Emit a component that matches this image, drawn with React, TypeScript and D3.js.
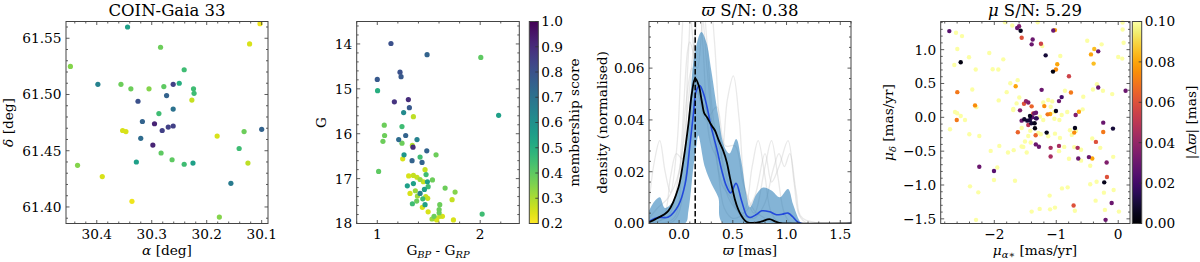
import * as d3 from "d3";
import { useEffect, useRef } from "react";

// panel 1: sky positions of the members
const skyRa = [30.344, 30.103, 30.284, 30.122, 30.448, 30.241, 30.398, 30.356, 30.338, 30.305, 30.278, 30.261, 30.25, 30.224, 30.223, 30.227, 30.273, 30.325, 30.261, 30.287, 30.317, 30.295, 30.261, 30.27, 30.281, 30.353, 30.347, 30.32, 30.298, 30.181, 30.132, 30.1, 30.141, 30.283, 30.263, 30.328, 30.241, 30.225, 30.125, 30.435, 30.39, 30.156, 30.336, 30.177];
const skyDec = [61.56, 61.563, 61.542, 61.545, 61.525, 61.522, 61.509, 61.509, 61.505, 61.505, 61.507, 61.509, 61.51, 61.505, 61.501, 61.495, 61.499, 61.494, 61.487, 61.483, 61.476, 61.474, 61.472, 61.471, 61.468, 61.468, 61.467, 61.461, 61.455, 61.463, 61.467, 61.469, 61.452, 61.448, 61.442, 61.44, 61.438, 61.439, 61.439, 61.437, 61.427, 61.421, 61.405, 61.391];
const skyMem = [0.55, 0.22, 0.38, 0.25, 0.35, 0.45, 0.65, 0.38, 0.38, 0.35, 0.4, 0.85, 0.5, 0.45, 0.45, 0.27, 0.75, 0.8, 0.7, 0.45, 0.75, 0.92, 0.85, 0.85, 0.85, 0.25, 0.25, 0.72, 0.92, 0.25, 0.38, 0.75, 0.45, 0.4, 0.4, 0.55, 0.45, 0.55, 0.28, 0.35, 0.25, 0.67, 0.22, 0.35];

// panel 2: colour-magnitude diagram
const cmdBpRp = [1.133, 1.484, 2.006, 1.221, 1.231, 1.0, 1.003, 1.302, 1.166, 1.312, 1.256, 1.351, 2.179, 1.068, 1.24, 1.071, 1.276, 1.055, 1.208, 1.386, 1.24, 1.341, 1.347, 1.481, 1.26, 1.571, 1.247, 1.416, 1.338, 1.435, 1.013, 1.464, 1.474, 1.305, 1.351, 1.386, 1.416, 1.448, 1.536, 1.487, 1.292, 1.351, 1.494, 1.659, 1.458, 1.37, 1.416, 1.318, 1.756, 1.39, 1.471, 1.49, 1.442, 1.727, 1.383, 1.341, 1.464, 1.607, 1.438, 1.601, 1.601, 1.494, 2.019, 1.552, 1.607, 1.633, 1.532, 1.578, 1.565, 1.74];
const cmdG = [13.99, 14.24, 14.3, 14.63, 14.73, 14.79, 15.04, 15.24, 15.29, 15.42, 15.53, 15.62, 15.59, 15.81, 15.84, 16.04, 16.04, 16.17, 16.13, 16.13, 16.21, 16.26, 16.3, 16.38, 16.47, 16.47, 16.56, 16.52, 16.6, 16.64, 16.84, 16.8, 16.91, 16.94, 16.93, 16.97, 17.02, 17.07, 17.03, 17.07, 17.16, 17.11, 17.18, 17.21, 17.24, 17.27, 17.33, 17.33, 17.3, 17.39, 17.4, 17.44, 17.45, 17.47, 17.5, 17.56, 17.58, 17.58, 17.64, 17.69, 17.76, 17.74, 17.79, 17.84, 17.84, 17.84, 17.9, 17.92, 17.89, 17.92];
const cmdMem = [0.8, 0.75, 0.4, 0.8, 0.78, 0.78, 0.5, 0.9, 0.88, 0.78, 0.62, 0.28, 0.55, 0.38, 0.45, 0.38, 0.75, 0.38, 0.72, 0.65, 0.38, 0.3, 0.9, 0.75, 0.58, 0.38, 0.25, 0.45, 0.75, 0.75, 0.4, 0.27, 0.45, 0.25, 0.27, 0.27, 0.32, 0.27, 0.38, 0.55, 0.55, 0.55, 0.45, 0.38, 0.55, 0.32, 0.65, 0.25, 0.35, 0.32, 0.27, 0.27, 0.45, 0.27, 0.38, 0.45, 0.55, 0.38, 0.25, 0.38, 0.38, 0.25, 0.45, 0.38, 0.27, 0.25, 0.32, 0.25, 0.25, 0.25];

// panel 3: parallax densities [parallax, density]
const plxCluster: [number, number][] = [[-0.28, 0.0005], [-0.22, 0.0017], [-0.1, 0.0049], [-0.006, 0.0139], [0.04, 0.0243], [0.087, 0.0385], [0.118, 0.05], [0.15, 0.056], [0.185, 0.053], [0.21, 0.0475], [0.235, 0.0425], [0.26, 0.041], [0.3, 0.038], [0.334, 0.0359], [0.37, 0.032], [0.411, 0.0281], [0.445, 0.0235], [0.473, 0.0178], [0.519, 0.0094], [0.55, 0.0055], [0.58, 0.003], [0.63, 0.0006], [0.7, 0.0002], [0.77, 0.0008], [0.84, 0.0017], [0.9, 0.0007], [0.95, 0.0001], [1.0, 0], [1.6, 0]];
const plxMedian: [number, number][] = [[-0.28, 0.0008], [-0.2, 0.0023], [-0.1, 0.0025], [-0.006, 0.007], [0.056, 0.0152], [0.102, 0.0307], [0.133, 0.0423], [0.16, 0.0513], [0.192, 0.0533], [0.225, 0.0505], [0.26, 0.045], [0.3, 0.037], [0.35, 0.029], [0.4, 0.02], [0.44, 0.0145], [0.48, 0.0118], [0.53, 0.0155], [0.58, 0.009], [0.63, 0.003], [0.66, 0.0023], [0.72, 0.0035], [0.77, 0.0049], [0.844, 0.0045], [0.906, 0.0034], [0.96, 0.0036], [1.014, 0.004], [1.06, 0.0025], [1.092, 0.001], [1.14, 0], [1.6, 0]];
const plxUpper: [number, number][] = [[-0.28, 0.0049], [-0.23, 0.0085], [-0.179, 0.0101], [-0.133, 0.006], [-0.07, 0.0078], [-0.01, 0.014], [0.053, 0.0268], [0.099, 0.046], [0.145, 0.0655], [0.207, 0.0739], [0.254, 0.07], [0.3, 0.059], [0.362, 0.0423], [0.424, 0.0294], [0.47, 0.027], [0.532, 0.0326], [0.578, 0.0243], [0.625, 0.0114], [0.659, 0.0062], [0.721, 0.0114], [0.782, 0.0139], [0.86, 0.0127], [0.937, 0.0101], [1.014, 0.0133], [1.06, 0.0075], [1.122, 0.001], [1.15, 0], [1.6, 0]];
const plxLower: [number, number][] = [[-0.28, 0], [0.056, 0], [0.087, 0.0049], [0.133, 0.0217], [0.164, 0.031], [0.179, 0.034], [0.241, 0.0217], [0.303, 0.0152], [0.365, 0.01], [0.411, 0], [1.6, 0]];
const plxDraws: [number, number][][] = [
  [[-0.28, 0.008], [-0.23, 0.024], [-0.18, 0.032], [-0.13, 0.02], [-0.08, 0.012], [-0.02, 0.03], [0.03, 0.075], [0.07, 0.1], [0.12, 0.075], [0.18, 0.05], [0.24, 0.045], [0.3, 0.04], [0.36, 0.022], [0.42, 0.006], [0.5, 0.002], [0.6, 0.004], [0.68, 0.022], [0.736, 0.032], [0.8, 0.018], [0.86, 0.004], [0.95, 0], [1.6, 0]],
  [[-0.28, 0], [-0.15, 0.002], [-0.08, 0.018], [-0.025, 0.027], [0.03, 0.025], [0.08, 0.06], [0.15, 0.11], [0.22, 0.07], [0.3, 0.03], [0.38, 0.025], [0.45, 0.048], [0.505, 0.057], [0.56, 0.04], [0.62, 0.012], [0.7, 0.004], [0.8, 0.022], [0.86, 0.032], [0.92, 0.018], [0.98, 0.004], [1.05, 0], [1.6, 0]],
  [[-0.28, 0], [-0.05, 0.002], [0.02, 0.03], [0.1, 0.07], [0.17, 0.06], [0.22, 0.08], [0.27, 0.095], [0.33, 0.07], [0.38, 0.035], [0.44, 0.012], [0.52, 0.006], [0.6, 0.004], [0.7, 0.01], [0.8, 0.027], [0.86, 0.016], [0.93, 0.022], [1.014, 0.032], [1.07, 0.016], [1.12, 0.003], [1.2, 0], [1.6, 0]],
  [[-0.28, 0], [-0.1, 0.003], [0.0, 0.02], [0.08, 0.045], [0.14, 0.07], [0.2, 0.085], [0.26, 0.06], [0.33, 0.03], [0.4, 0.015], [0.48, 0.01], [0.56, 0.004], [0.7, 0.002], [0.8, 0.008], [0.87, 0.02], [0.93, 0.027], [0.98, 0.022], [1.03, 0.027], [1.09, 0.012], [1.15, 0.002], [1.6, 0]],
  [[-0.28, 0.002], [-0.2, 0.006], [-0.1, 0.01], [0.0, 0.02], [0.06, 0.045], [0.12, 0.06], [0.18, 0.05], [0.25, 0.04], [0.35, 0.045], [0.43, 0.03], [0.52, 0.03], [0.6, 0.015], [0.7, 0.005], [0.8, 0.002], [0.9, 0], [1.6, 0]],
  [[-0.28, 0], [-0.05, 0.001], [0.05, 0.015], [0.12, 0.05], [0.16, 0.08], [0.2, 0.1], [0.25, 0.075], [0.32, 0.04], [0.4, 0.025], [0.48, 0.012], [0.56, 0.004], [0.65, 0], [1.6, 0]],
];
const plxPeak = 0.15;

// panel 4: proper motions, coloured by |parallax offset|
const pmRa = [-2.726, -2.618, -2.521, -1.827, -1.71, -1.63, -1.6, -1.575, -1.558, -1.381, -1.397, -2.597, -2.542, -2.645, -2.408, -2.081, -1.855, -2.3, -2.026, -1.935, -1.742, -1.623, -1.655, -1.8, -2.355, -2.597, -1.929, -2.311, -2.29, -1.597, -1.489, -1.452, -1.521, -1.397, -1.585, -1.693, -2.634, -2.6, -2.542, -2.606, -2.473,
  -1.559, -1.516, -1.468, -1.425, -1.387, -1.355, -1.328, -1.349, -1.344, -1.403, -1.452, -1.424, -1.371, -1.316, -1.327, -1.62, -1.333, -1.33, -1.28, -1.155, -1.091, -1.091, -0.956, -0.71, -0.698, -0.655, -0.645, -0.473, -0.419, -0.36, -0.242, -0.242, -0.085, -0.187, -0.182, -0.226, -0.106, -0.72, -0.204, -2.242, -2.005,
  -1.3, -1.048, -1.021, -1.247, -1.226, -1.171, -0.935, -0.984, -1.005, -1.053, -0.795, -0.5, -0.387, -0.323, -0.44, -0.268, 0.071, 0.071, 0.087, -0.397, 0.0, 0.065, -0.344, -0.323, -0.408, -0.247, -0.097, 0.119, -1.236, -0.86, -0.763, -0.913, -0.956, -0.564, -1.064, -1.193, -1.005, -1.03, -1.139, -1.097, -0.823, -0.634, -0.574, -0.687, -0.913, -1.03, -0.95,
  -2.715, -2.403, -2.242, -1.558, -1.42, -1.452, -1.413, -1.532, -1.919, -2.058, -1.779, -1.687, -1.477, -1.952, -2.005, -1.666, -2.392, -2.258, -1.397, -2.295,
  -1.29, -1.25, -1.13, -1.021, -0.94, -0.956, -0.871, -0.795, -0.779, -0.68, -0.75, -0.71, -0.6, -0.6, -0.419, -0.29, -0.452, -0.081, -0.349, -0.452, -0.074, -0.231, -0.816, -0.908, -1.107, -0.365, -0.7, -0.215, 0.011, -1.021, -1.1, -1.268,
  -1.694, -1.64, -1.21, -1.13, -1.09, -1.263, -1.21, -1.505, -1.559];
const pmDec = [1.274, 1.25, 1.2, 1.406, 1.357, 1.32, 1.345, 1.279, 1.176, 1.151, 1.078, 1.009, 0.813, 0.774, 0.887, 0.95, 0.857, 0.706, 0.71, 0.706, 0.504, 0.549, 0.46, 0.372, 0.412, 0.372, 0.25, 0.176, 0.15, 0.294, 0.24, 0.22, 0.2, 0.162, 0.103, 0.122, 0.078, 0.06, 0.019, -0.04, -0.04,
  -0.049, -0.029, -0.049, -0.039, 0.0, 0.059, -0.015, -0.088, -0.162, -0.088, -0.113, 0.019, 0.059, -0.015, 0.068, -0.22, -0.265, -0.4, -0.435, -0.226, -0.451, -0.579, -0.422, -0.226, -0.157, -0.451, -0.608, -0.588, -0.608, -0.363, -0.079, -0.216, -0.167, -0.667, -0.882, -0.961, -1.265, -1.304, -1.515, -0.731, -0.794,
  1.406, 1.284, 1.289, 1.088, 1.053, 0.916, 0.906, 0.784, 0.706, 0.676, 0.607, 1.132, 1.009, 0.975, 0.93, 1.078, 1.401, 1.298, 1.103, 0.794, 0.891, 0.868, 0.49, 0.441, 0.412, 0.392, 0.343, 0.392, 0.406, 0.392, 0.367, 0.299, 0.24, 0.303, 0.235, 0.166, 0.093, 0.08, 0.044, 0.049, 0.078, 0.083, 0.118, 0.034, 0.034, -0.02, -0.04,
  -0.176, -0.25, -0.275, -0.157, -0.2, -0.275, -0.373, -0.437, -0.422, -0.496, -0.52, -0.485, -0.52, -0.741, -0.927, -0.937, -1.02, -1.109, -1.393, -1.515,
  -0.23, -0.25, -0.28, -0.241, -0.304, -0.5, -0.437, -0.613, -0.191, -0.2, -0.26, -0.44, -0.48, -0.64, -0.314, -0.451, -0.716, -0.584, -0.951, -0.99, -1.074, -1.113, -1.035, -1.05, -1.157, -1.231, -1.38, -1.368, -1.393, -1.334, -1.36, -1.353,
  0.108, 0.206, 0.22, 0.255, 0.157, 0.01, -0.04, -0.358, -0.431];
const pmDPlx = [0.025, 0.1, 0.1, 0.1, 0.1, 0.03, 0.035, 0.005, 0.06, 0.03, 0.03, 0.1, 0.003, 0.1, 0.1, 0.1, 0.1, 0.1, 0.1, 0.1, 0.1, 0.1, 0.08, 0.1, 0.1, 0.07, 0.1, 0.075, 0.1, 0.1, 0.04, 0.035, 0.06, 0.065, 0.035, 0.1, 0.1, 0.1, 0.1, 0.07, 0.1,
  0.03, 0.008, 0.01, 0.012, 0.025, 0.03, 0.015, 0.005, 0.003, 0.01, 0.05, 0.006, 0.06, 0.02, 0.03, 0.065, 0.065, 0.03, 0.03, 0.005, 0.045, 0.045, 0.045, 0.075, 0.005, 0.045, 0.03, 0.03, 0.08, 0.06, 0.03, 0.07, 0.01, 0.035, 0.06, 0.005, 0.03, 0.06, 0.03, 0.03, 0.025,
  0.1, 0.03, 0.08, 0.055, 0.1, 0.01, 0.1, 0.08, 0.075, 0.003, 0.055, 0.1, 0.085, 0.03, 0.08, 0.1, 0.1, 0.1, 0.1, 0.085, 0.1, 0.1, 0.1, 0.03, 0.1, 0.1, 0.1, 0.03, 0.03, 0.1, 0.07, 0.02, 0.03, 0.1, 0.1, 0.075, 0.005, 0.1, 0.07, 0.08, 0.1, 0.08, 0.1, 0.035, 0.1, 0.1, 0.1,
  0.1, 0.1, 0.1, 0.1, 0.1, 0.1, 0.1, 0.1, 0.1, 0.1, 0.1, 0.1, 0.1, 0.1, 0.1, 0.1, 0.1, 0.1, 0.1, 0.1,
  0.1, 0.1, 0.1, 0.1, 0.1, 0.1, 0.1, 0.1, 0.1, 0.1, 0.1, 0.1, 0.1, 0.1, 0.1, 0.1, 0.1, 0.1, 0.1, 0.1, 0.1, 0.1, 0.1, 0.1, 0.1, 0.1, 0.1, 0.1, 0.1, 0.1, 0.1, 0.1,
  0.1, 0.1, 0.1, 0.1, 0.1, 0.1, 0.1, 0.1, 0.1];

// tick labels
const skyRaTicks = [30.4, 30.3, 30.2, 30.1];
const skyDecTicks = [61.4, 61.45, 61.5, 61.55];
const cmdColorTicks = [1, 2];
const cmdMagTicks = [14, 15, 16, 17, 18];
const memTicks = [0.2, 0.3, 0.4, 0.5, 0.6, 0.7, 0.8, 0.9, 1.0];
const plxTicks = [0, 0.5, 1.0, 1.5];
const densTicks = [0, 0.02, 0.04, 0.06];
const pmRaTicks = [-2, -1, 0];
const pmDecTicks = [-1.5, -1.0, -0.5, 0, 0.5, 1.0];
const dPlxTicks = [0, 0.02, 0.04, 0.06, 0.08, 0.1];

const FONT = "DejaVu Serif, serif";
const FS = 13.7;
const TOP = 21.5;
const BOT = 223.5;

type Sel = d3.Selection<SVGGElement, unknown, null, undefined>;

function frame(g: Sel, x: any, y: any, xt: number[], yt: number[], xStep: number, yStep: number, xf: string, yf: string) {
  const [l, r] = x.range();
  const line = (x1: number, y1: number, x2: number, y2: number) =>
    g.append("line").attr("x1", x1).attr("y1", y1).attr("x2", x2).attr("y2", y2).attr("stroke", "#333").attr("stroke-width", 0.8);
  const minor = (sc: any, step: number, major: number[]) => {
    const [a, b] = d3.extent(sc.domain() as number[]) as [number, number];
    const out: number[] = [];
    for (let v = Math.ceil(a / step - 1e-6) * step; v <= b + 1e-9; v += step) {
      if (!major.some((m) => Math.abs(m - v) < step / 10)) out.push(v);
    }
    return out;
  };
  for (const v of xt) {
    line(x(v), BOT, x(v), BOT - 3.5);
    line(x(v), TOP, x(v), TOP + 3.5);
    g.append("text").attr("x", x(v)).attr("y", BOT + 15).attr("text-anchor", "middle").attr("font-size", FS).text(d3.format(xf)(v));
  }
  for (const v of minor(x, xStep, xt)) {
    line(x(v), BOT, x(v), BOT - 2);
    line(x(v), TOP, x(v), TOP + 2);
  }
  for (const v of yt) {
    line(l, y(v), l + 3.5, y(v));
    line(r, y(v), r - 3.5, y(v));
    g.append("text").attr("x", l - 4.5).attr("y", y(v)).attr("dy", "0.36em").attr("text-anchor", "end").attr("font-size", FS).text(d3.format(yf)(v));
  }
  for (const v of minor(y, yStep, yt)) {
    line(l, y(v), l + 2, y(v));
    line(r, y(v), r - 2, y(v));
  }
  g.append("rect").attr("x", l).attr("y", TOP).attr("width", r - l).attr("height", BOT - TOP).attr("fill", "none").attr("stroke", "#444").attr("stroke-width", 1);
}

function colorbar(g: Sel, defs: any, id: string, x0: number, x1: number, sc: any, interp: (t: number) => string, ticks: number[], fmt: string) {
  const grad = defs.append("linearGradient").attr("id", id).attr("x1", 0).attr("y1", 1).attr("x2", 0).attr("y2", 0);
  d3.range(0, 1.0001, 0.05).forEach((t) => grad.append("stop").attr("offset", t).attr("stop-color", interp(t)));
  g.append("rect").attr("x", x0).attr("y", TOP).attr("width", x1 - x0).attr("height", BOT - TOP).attr("fill", `url(#${id})`).attr("stroke", "#444").attr("stroke-width", 1);
  for (const v of ticks) {
    g.append("line").attr("x1", x1).attr("x2", x1 - 3).attr("y1", sc(v)).attr("y2", sc(v)).attr("stroke", "#333").attr("stroke-width", 0.8);
    g.append("text").attr("x", x1 + 3).attr("y", sc(v)).attr("dy", "0.36em").attr("font-size", FS).text(d3.format(fmt)(v));
  }
}

function ylabel(g: Sel, x: number, parts: [string, string?][]) {
  const t = g.append("text").attr("transform", `translate(${x},${(TOP + BOT) / 2}) rotate(-90)`).attr("text-anchor", "middle").attr("font-size", FS);
  addParts(t, parts);
}
function xlabel(g: Sel, x: number, parts: [string, string?][]) {
  const t = g.append("text").attr("x", x).attr("y", 254.5).attr("text-anchor", "middle").attr("font-size", FS);
  addParts(t, parts);
}
function addParts(t: any, parts: [string, string?][]) {
  for (const [s, kind] of parts) {
    const sp = t.append("tspan").text(s);
    if (kind === "i") sp.attr("font-style", "italic");
    if (kind === "sub") sp.attr("font-style", "italic").attr("font-size", FS * 0.72).attr("dy", 3);
    if (kind === "up") sp.attr("dy", -3);
  }
}

export default function App() {
  const ref = useRef<SVGSVGElement | null>(null);
  useEffect(() => {
    if (!ref.current) return;
    const svg = d3.select(ref.current);
    svg.selectAll("*").remove();
    const defs = svg.append("defs");
    const root = svg.append("g").attr("font-family", FONT).attr("fill", "#000") as unknown as Sel;
    const viridisR = (t: number) => d3.interpolateViridis(1 - t);

    // ---- panel 1: sky
    {
      const x = d3.scaleLinear().domain([30.456, 30.0885]).range([66, 268]);
      const y = d3.scaleLinear().domain([61.3853, 61.5649]).range([BOT, TOP]);
      const g = root.append("g") as unknown as Sel;
      const idx = d3.range(skyRa.length).sort((a, b) => skyMem[a] - skyMem[b]);
      g.selectAll("circle").data(idx).join("circle")
        .attr("cx", (i) => x(skyRa[i])).attr("cy", (i) => y(skyDec[i])).attr("r", 2.6)
        .attr("fill", (i) => viridisR((skyMem[i] - 0.2) / 0.8));
      frame(g, x, y, skyRaTicks, skyDecTicks, 0.02, 0.01, ".1f", ".2f");
      g.append("text").attr("x", 167).attr("y", 16).attr("text-anchor", "middle").attr("font-size", 16.5).text("COIN-Gaia 33");
      xlabel(g, 167, [["α", "i"], [" [deg]"]]);
      ylabel(g, 13, [["δ", "i"], [" [deg]"]]);
    }

    // ---- panel 2: CMD
    {
      const x = d3.scaleLinear().domain([0.8, 2.38]).range([356.7, 519.3]);
      const y = d3.scaleLinear().domain([13.5, 18]).range([TOP, BOT]);
      const c = d3.scaleLinear().domain([0.2, 1.0]).range([BOT, TOP]);
      const g = root.append("g") as unknown as Sel;
      const idx = d3.range(cmdBpRp.length).sort((a, b) => cmdMem[a] - cmdMem[b]);
      g.selectAll("circle").data(idx).join("circle")
        .attr("cx", (i) => x(cmdBpRp[i])).attr("cy", (i) => y(cmdG[i])).attr("r", 2.6)
        .attr("fill", (i) => viridisR((cmdMem[i] - 0.2) / 0.8));
      frame(g, x, y, cmdColorTicks, cmdMagTicks, 0.2, 0.2, "d", "d");
      colorbar(g, defs, "memGrad", 529.3, 538.3, c, viridisR, memTicks, ".1f");
      xlabel(g, 438, [["G"], ["BP", "sub"], [" - G", "up"], ["RP", "sub"]]);
      ylabel(g, 326, [["G"]]);
      ylabel(g, 579, [["membership score"]]);
    }

    // ---- panel 3: parallax
    {
      const x = d3.scaleLinear().domain([-0.28, 1.6]).range([649, 851]);
      const y = d3.scaleLinear().domain([0, 0.078]).range([BOT, TOP]);
      const g = root.append("g") as unknown as Sel;
      defs.append("clipPath").attr("id", "plxClip").append("rect").attr("x", 649).attr("y", TOP).attr("width", 202).attr("height", BOT - TOP);
      const p = g.append("g").attr("clip-path", "url(#plxClip)");
      const curve = d3.curveCatmullRom.alpha(0.5);
      const line = d3.line<[number, number]>().x((d) => x(d[0])).y((d) => y(d[1])).curve(curve);
      for (const d of plxDraws) {
        p.append("path").attr("d", line(d) ?? "").attr("fill", "none").attr("stroke", "#c4c4c4").attr("stroke-opacity", 0.38).attr("stroke-width", 1.3);
      }
      const band = (line(plxUpper) ?? "") + "L" + (line(plxLower.slice().reverse()) ?? "").slice(1) + "Z";
      p.append("path").attr("d", band).attr("fill", "#1f77b4").attr("fill-opacity", 0.55);
      p.append("path").attr("d", line(plxMedian) ?? "").attr("fill", "none").attr("stroke", "#2349db").attr("stroke-width", 1.6);
      p.append("path").attr("d", line(plxCluster) ?? "").attr("fill", "none").attr("stroke", "#000").attr("stroke-width", 1.8);
      p.append("line").attr("x1", x(plxPeak)).attr("x2", x(plxPeak)).attr("y1", TOP).attr("y2", BOT).attr("stroke", "#000").attr("stroke-width", 1.5).attr("stroke-dasharray", "5.5,2.4");
      frame(g, x, y, plxTicks, densTicks, 0.1, 0.004, ".1f", ".2f");
      const t = g.append("text").attr("x", 750).attr("y", 16).attr("text-anchor", "middle").attr("font-size", 16.5);
      addParts(t, [["ϖ", "i"], [" S/N: 0.38"]]);
      xlabel(g, 750, [["ϖ", "i"], [" [mas]"]]);
      ylabel(g, 607, [["density (normalised)"]]);
    }

    // ---- panel 4: proper motions
    {
      const x = d3.scaleLinear().domain([-2.865, 0.19]).range([940.7, 1130]);
      const y = d3.scaleLinear().domain([-1.569, 1.416]).range([BOT, TOP]);
      const c = d3.scaleLinear().domain([0, 0.1]).range([BOT, TOP]);
      const col = (v: number) => d3.interpolateInferno(Math.max(0, Math.min(1, v / 0.1)));
      const g = root.append("g") as unknown as Sel;
      const idx = d3.range(pmRa.length).sort((a, b) => pmDPlx[b] - pmDPlx[a]);
      g.selectAll("circle").data(idx).join("circle")
        .attr("cx", (i) => x(pmRa[i])).attr("cy", (i) => y(pmDec[i])).attr("r", 2.2)
        .attr("fill", (i) => col(pmDPlx[i]));
      frame(g, x, y, pmRaTicks, pmDecTicks, 0.2, 0.1, "d", ".1f");
      colorbar(g, defs, "dplxGrad", 1132.3, 1141.7, c, d3.interpolateInferno, dPlxTicks, ".2f");
      const t = g.append("text").attr("x", 1035).attr("y", 16).attr("text-anchor", "middle").attr("font-size", 16.5);
      addParts(t, [["μ", "i"], [" S/N: 5.29"]]);
      xlabel(g, 1035, [["μ", "i"], ["α∗", "sub"], [" [mas/yr]", "up"]]);
      ylabel(g, 893, [["μ", "i"], ["δ", "sub"], [" [mas/yr]", "up"]]);
      ylabel(g, 1196, [["|Δ"], ["ϖ", "i"], ["| [mas]"]]);
    }
  }, []);
  return (
    <svg ref={ref} width={1200} height={262} viewBox="0 0 1200 262" style={{ position: "absolute", left: 0, top: 0, background: "#fff" }} />
  );
}
